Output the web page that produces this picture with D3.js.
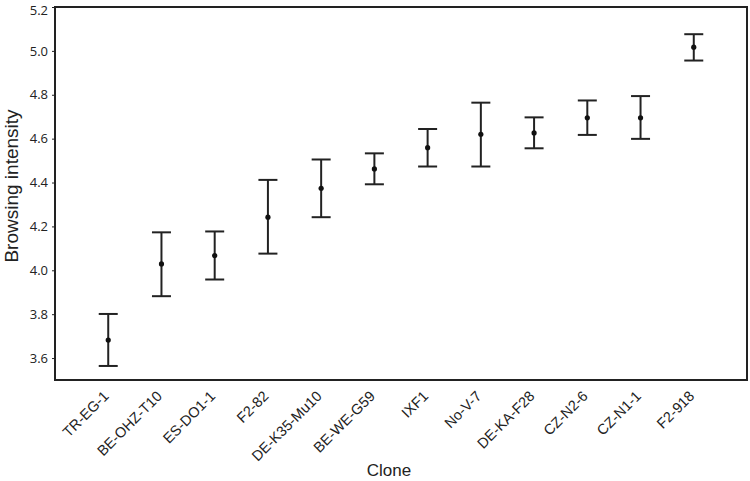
<!DOCTYPE html>
<html>
<head>
<meta charset="utf-8">
<script src="https://cdn.jsdelivr.net/npm/d3@7"></script>
<style>
  body { margin: 0; background: #fff; }
  svg { display: block; }
</style>
</head>
<body>
<svg id="chart" width="750" height="481"></svg>
<script>
const clones = ['TR-EG-1', 'BE-OHZ-T10', 'ES-DO1-1', 'F2-82', 'DE-K35-Mu10', 'BE-WE-G59',
    'IXF1', 'No-V-7', 'DE-KA-F28', 'CZ-N2-6', 'CZ-N1-1', 'F2-918'];
const means = [3.682, 4.029, 4.067, 4.242, 4.374, 4.462, 4.559, 4.620, 4.626, 4.695, 4.695, 5.017];
const lower = [3.564, 3.882, 3.958, 4.076, 4.242, 4.392, 4.473, 4.473, 4.556, 4.617, 4.599, 4.956];
const upper = [3.801, 4.173, 4.177, 4.412, 4.505, 4.533, 4.644, 4.764, 4.697, 4.774, 4.794, 5.076];
const yTicks = [3.6, 3.8, 4.0, 4.2, 4.4, 4.6, 4.8, 5.0, 5.2];

const margin = { left: 55, right: 3, top: 7, bottom: 101 };
const width = 750, height = 481;
const ink = '#222';

const svg = d3.select('#chart');

const x = d3.scalePoint()
    .domain(clones)
    .range([margin.left, width - margin.right])
    .padding(1);

const y = d3.scaleLinear()
    .domain([3.5, 5.2])
    .range([height - margin.bottom, margin.top]);

// y axis
const yAxis = svg.append('g')
    .attr('transform', `translate(${margin.left},0)`)
    .call(d3.axisLeft(y).tickValues(yTicks).tickFormat(d3.format('.1f')).tickSize(3).tickPadding(4));
yAxis.select('.domain').remove();
yAxis.selectAll('line').attr('stroke', ink);
yAxis.selectAll('text')
    .attr('fill', ink)
    .style('font-family', '"Open Sans", sans-serif')
    .style('font-size', '13px');
// top label sits on the edge, nudge it down a little
yAxis.selectAll('text').filter(d => d === 5.2).attr('y', 3);

// x axis labels
const xAxis = svg.append('g')
    .attr('transform', `translate(0,${height - margin.bottom})`)
    .call(d3.axisBottom(x).tickSize(0).tickPadding(0));
xAxis.select('.domain').remove();
xAxis.selectAll('text')
    .attr('fill', ink)
    .attr('text-anchor', 'end')
    .attr('dy', 0)
    .attr('y', 0)
    .attr('transform', 'translate(1,17) rotate(-45)')
    .style('font-family', '"Liberation Sans", Arial, sans-serif')
    .style('font-size', '14.5px');

// frame
svg.append('rect')
    .attr('x', margin.left)
    .attr('y', margin.top)
    .attr('width', width - margin.left - margin.right)
    .attr('height', height - margin.top - margin.bottom)
    .attr('fill', 'none')
    .attr('stroke', ink)
    .attr('stroke-width', 2);

// error bars
const capW = 9.5;
const bars = svg.append('g')
    .selectAll('g')
    .data(clones)
    .enter()
    .append('g')
    .attr('stroke', ink)
    .attr('stroke-width', 2);

bars.append('line')
    .attr('x1', d => x(d)).attr('x2', d => x(d))
    .attr('y1', (d, i) => y(lower[i])).attr('y2', (d, i) => y(upper[i]));
bars.append('line')
    .attr('x1', d => x(d) - capW).attr('x2', d => x(d) + capW)
    .attr('y1', (d, i) => y(upper[i])).attr('y2', (d, i) => y(upper[i]));
bars.append('line')
    .attr('x1', d => x(d) - capW).attr('x2', d => x(d) + capW)
    .attr('y1', (d, i) => y(lower[i])).attr('y2', (d, i) => y(lower[i]));

svg.append('g')
    .selectAll('circle')
    .data(clones)
    .enter()
    .append('circle')
    .attr('cx', d => x(d))
    .attr('cy', (d, i) => y(means[i]))
    .attr('r', 2.6)
    .attr('fill', '#111');

// axis titles
svg.append('text')
    .attr('x', 389)
    .attr('y', 476)
    .attr('text-anchor', 'middle')
    .attr('fill', ink)
    .style('font-family', '"Liberation Sans", Arial, sans-serif')
    .style('font-size', '17px')
    .text('Clone');

svg.append('text')
    .attr('transform', 'translate(18,186) rotate(-90)')
    .attr('text-anchor', 'middle')
    .attr('fill', ink)
    .style('font-family', '"Liberation Sans", Arial, sans-serif')
    .style('font-size', '19px')
    .text('Browsing intensity');
</script>
</body>
</html>
